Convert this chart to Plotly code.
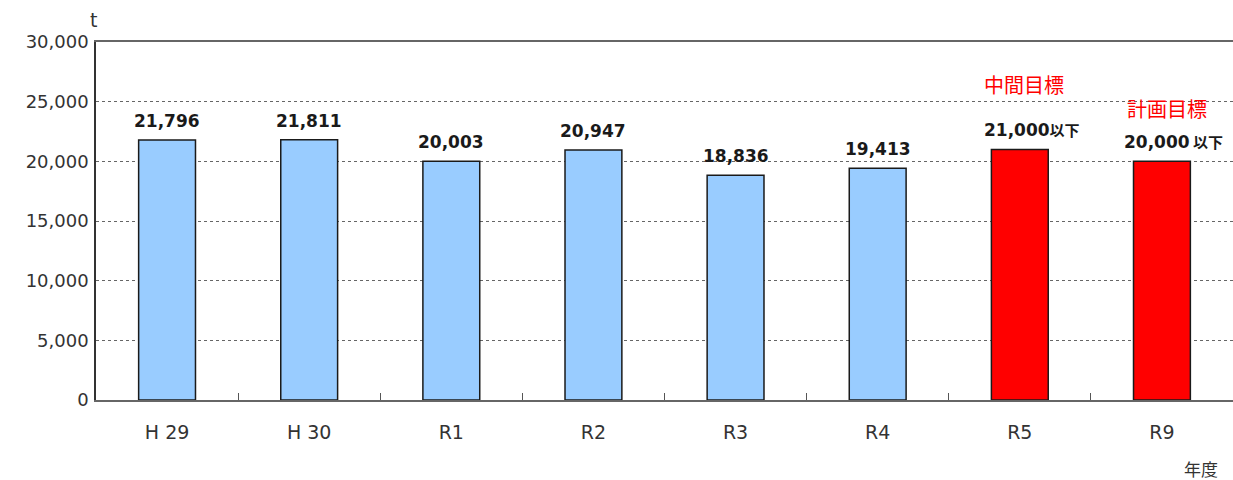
import plotly.graph_objects as go

categories = ["H 29", "H 30", "R1", "R2", "R3", "R4", "R5", "R9"]
values = [21796, 21811, 20003, 20947, 18836, 19413, 21000, 20000]
value_labels = ["21,796", "21,811", "20,003", "20,947", "18,836", "19,413", "21,000", "20,000"]
label_suffix = ["", "", "", "", "", "", "以下", " 以下"]
target_labels = {"R5": "中間目標", "R9": "計画目標"}
bar_colors = ["#99ccff"] * 6 + ["#ff0000"] * 2

y_ticks = [0, 5000, 10000, 15000, 20000, 25000, 30000]
y_tick_text = ["0", "5,000", "10,000", "15,000", "20,000", "25,000", "30,000"]

fig = go.Figure()
fig.add_trace(go.Bar(
    x=categories, y=values,
    marker=dict(color=bar_colors, line=dict(color="#1a1a1a", width=1.5)),
    hoverinfo="skip",
))

font = "DejaVu Sans, Verdana, sans-serif"
cjk = "Noto Sans CJK JP, sans-serif"
annotations = []
for c, v, lab, suf in zip(categories, values, value_labels, label_suffix):
    text = f"<b>{lab}</b>"
    if suf:
        text += f"<span style='font-family:{cjk};font-size:15px'><b>{suf}</b></span>"
    annotations.append(dict(
        x=c, y=v, xref="x", yref="y", text=text, showarrow=False,
        yanchor="bottom", yshift=7, xshift=12 if suf else 0,
        font=dict(family=font, size=17, color="#1a1a1a"),
    ))
    if c in target_labels:
        annotations.append(dict(
            x=c, y=v, xref="x", yref="y", text=target_labels[c], showarrow=False,
            yanchor="bottom", yshift=(48 if c == "R5" else 36), xshift=(4 if c == "R5" else 5),
            font=dict(family=cjk, size=20, color="#ff0000"),
        ))

annotations.append(dict(xref="paper", yref="paper", x=0, y=1, xshift=-3, yshift=22,
                        text="t", showarrow=False, xanchor="center", yanchor="middle",
                        font=dict(family=font, size=19, color="#333333")))
annotations.append(dict(xref="paper", yref="paper", x=1, y=0, xshift=-32, yshift=-68,
                        text="年度", showarrow=False, xanchor="center", yanchor="middle",
                        font=dict(family=cjk, size=17, color="#333333")))

fig.update_layout(
    width=1233, height=480,
    margin=dict(l=96, r=0, t=42, b=80),
    paper_bgcolor="white", plot_bgcolor="white",
    bargap=0.6, showlegend=False,
    annotations=annotations,
    xaxis=dict(
        showline=True, linecolor="#666666", linewidth=2, mirror=True,
        ticks="inside", tickson="boundaries", ticklen=7, tickcolor="#555555",
        showgrid=False, ticklabelstandoff=14,
        tickfont=dict(family=font, size=19, color="#333333"),
    ),
    yaxis=dict(
        range=[0, 30000], tickvals=y_ticks, ticktext=y_tick_text,
        showline=True, linecolor="#333333", linewidth=1.5,
        showgrid=True, gridcolor="#666666", griddash="dot", gridwidth=1,
        tickfont=dict(family=font, size=18, color="#333333"),
        ticks="", zeroline=False, ticklabelstandoff=2,
    ),
)

fig.write_html("out.html")
